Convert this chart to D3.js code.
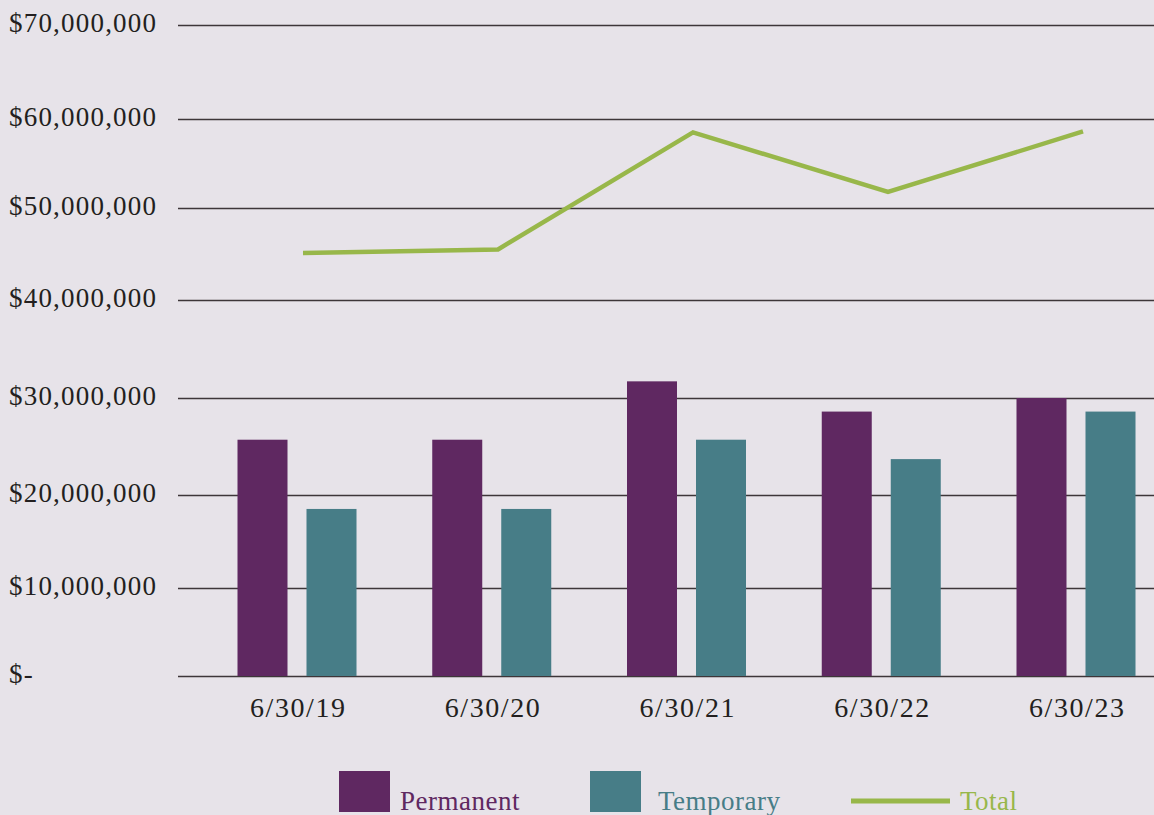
<!DOCTYPE html>
<html>
<head>
<meta charset="utf-8">
<script src="https://cdn.jsdelivr.net/npm/d3@7"></script>
<style>
  html, body { margin: 0; padding: 0; background: #E7E3E9; }
  svg { display: block; }
  text { font-family: "Liberation Serif", "DejaVu Serif", serif; }
</style>
</head>
<body>
<svg id="chart" width="1154" height="815"></svg>
<script>
// ---- data ----
const categories = ["6/30/19", "6/30/20", "6/30/21", "6/30/22", "6/30/23"];
const seriesNames = ["Permanent", "Temporary", "Total"];
const permanent = [25700000, 25700000, 31700000, 28600000, 30000000];
const temporary = [18500000, 18500000, 25700000, 23700000, 28600000];
const total     = [45100000, 45500000, 58500000, 51800000, 58600000];
const tickValues = [0, 10000000, 20000000, 30000000, 40000000, 50000000, 60000000, 70000000];
const tickLabels = ["$-", "$10,000,000", "$20,000,000", "$30,000,000", "$40,000,000", "$50,000,000", "$60,000,000", "$70,000,000"];

const colors = { Permanent: "#5F2861", Temporary: "#477D87", Total: "#98B74A" };

const svg = d3.select("#chart");
svg.append("rect").attr("width", 1154).attr("height", 815).attr("fill", "#E7E3E9");

const plotLeft = 178, plotRight = 1154;
// gridline pixel positions as drawn in the reference (slightly uneven spacing)
const y = d3.scaleLinear().domain(tickValues).range([676, 588, 495, 398, 300, 208, 119, 25]);
const x = d3.scalePoint().domain(categories).range([297, 1076]);
const xLine = d3.scalePoint().domain(categories).range([303, 1083]);
const xSub = d3.scaleBand().domain(["Permanent", "Temporary"]).range([-59.5, 59.5]).paddingInner(0.2754);

// ---- y axis / gridlines ----
const yAxis = d3.axisLeft(y)
  .tickValues(tickValues)
  .tickSize(-(plotRight - plotLeft))
  .tickFormat((d, i) => tickLabels[i]);

const gy = svg.append("g").attr("transform", `translate(${plotLeft},0)`).call(yAxis);
gy.select(".domain").remove();
gy.selectAll(".tick line").attr("stroke", "#3d3639").attr("stroke-width", 1.5);
gy.selectAll(".tick text")
  .attr("x", 9 - plotLeft)
  .attr("dy", "0.25em")
  .attr("text-anchor", "start")
  .attr("fill", "#231F20")
  .style("font-size", "27px")
  .style("letter-spacing", "1.2px");

// ---- bars ----
const barData = [];
categories.forEach((c, i) => {
  barData.push({ cat: c, key: "Permanent", value: permanent[i] });
  barData.push({ cat: c, key: "Temporary", value: temporary[i] });
});

svg.append("g").selectAll("rect")
  .data(barData)
  .join("rect")
  .attr("x", d => x(d.cat) + xSub(d.key))
  .attr("width", xSub.bandwidth())
  .attr("y", d => y(d.value))
  .attr("height", d => y(0) - y(d.value))
  .attr("fill", d => colors[d.key]);

// ---- total line ----
const line = d3.line()
  .x((d, i) => xLine(categories[i]))
  .y(d => y(d));

svg.append("path")
  .datum(total)
  .attr("d", line)
  .attr("fill", "none")
  .attr("stroke", colors.Total)
  .attr("stroke-width", 4.5)
  .attr("stroke-linejoin", "miter");

// ---- x axis labels ----
const xAxis = d3.axisBottom(x).tickSize(0).tickPadding(21);
const gx = svg.append("g").attr("transform", `translate(0,676)`).call(xAxis);
gx.select(".domain").remove();
gx.selectAll(".tick text")
  .attr("fill", "#231F20")
  .attr("dx", "0.8px")
  .style("font-size", "28px")
  .style("letter-spacing", "1.6px");

// ---- legend ----
const legend = svg.append("g");
const legendItems = [
  { name: seriesNames[0], type: "rect", x: 339, tx: 400 },
  { name: seriesNames[1], type: "rect", x: 590, tx: 658 },
  { name: seriesNames[2], type: "line", x: 851, tx: 960 }
];
legendItems.forEach(it => {
  if (it.type === "rect") {
    legend.append("rect").attr("x", it.x).attr("y", 771).attr("width", 51).attr("height", 41)
      .attr("fill", colors[it.name]);
  } else {
    legend.append("line").attr("x1", it.x).attr("x2", it.x + 99).attr("y1", 801).attr("y2", 801)
      .attr("stroke", colors[it.name]).attr("stroke-width", 5);
  }
  legend.append("text").attr("x", it.tx).attr("y", 810)
    .attr("fill", colors[it.name])
    .style("font-size", "27px")
    .style("letter-spacing", "0.5px")
    .text(it.name);
});
</script>
</body>
</html>
